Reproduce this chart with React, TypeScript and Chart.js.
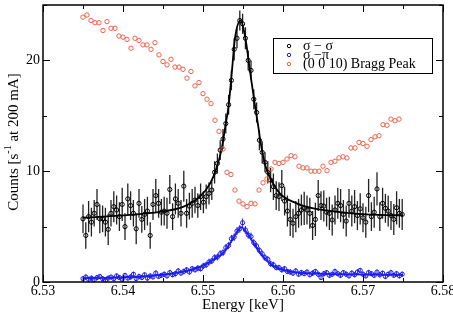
import React, { useEffect, useRef } from 'react';
import { Chart, registerables } from 'chart.js';
Chart.register(...registerables);

const SERIF = "'Liberation Serif', 'Times New Roman', Times, serif";

// Tick labels
const X_MAJOR = [6.53, 6.54, 6.55, 6.56, 6.57, 6.58];
const Y_MAJOR = [0, 10, 20];

// Legend labels
const LEGEND_LABELS = ['σ − σ', 'σ −π', '(0 0 10) Bragg Peak'];

// σ-σ and σ-π energy grid [keV]
const POL_E = [
  6.535, 6.53535, 6.5357, 6.53605, 6.5364, 6.53675, 6.5371, 6.53745, 6.5378, 6.53815,
  6.5385, 6.53885, 6.5392, 6.53955, 6.5399, 6.54025, 6.5406, 6.54095, 6.5413, 6.54165,
  6.542, 6.54235, 6.5427, 6.54305, 6.5434, 6.54375, 6.5441, 6.54445, 6.5448, 6.54515,
  6.5455, 6.54585, 6.5462, 6.54655, 6.5469, 6.54725, 6.5476, 6.54795, 6.5483, 6.54865,
  6.549, 6.54935, 6.5497, 6.55005, 6.5504, 6.55075, 6.5511, 6.55145, 6.5518, 6.55215,
  6.5525, 6.55285, 6.5532, 6.55355, 6.5539, 6.55425, 6.5546, 6.55495, 6.5553, 6.55565,
  6.556, 6.55635, 6.5567, 6.55705, 6.5574, 6.55775, 6.5581, 6.55845, 6.5588, 6.55915,
  6.5595, 6.55985, 6.5602, 6.56055, 6.5609, 6.56125, 6.5616, 6.56195, 6.5623, 6.56265,
  6.563, 6.56335, 6.5637, 6.56405, 6.5644, 6.56475, 6.5651, 6.56545, 6.5658, 6.56615,
  6.5665, 6.56685, 6.5672, 6.56755, 6.5679, 6.56825, 6.5686, 6.56895, 6.5693, 6.56965,
  6.57, 6.57035, 6.5707, 6.57105, 6.5714, 6.57175, 6.5721, 6.57245, 6.5728, 6.57315,
  6.5735, 6.57385, 6.5742, 6.57455, 6.5749,
];

// σ-σ counts
const SS_Y = [
  5.7, 4.2, 5.9, 5.4, 6.2, 7.0, 5.7, 5.7, 5.4, 4.75,
  6.2, 6.8, 6.5, 5.9, 7.0, 5.0, 7.5, 6.9, 6.2, 4.8,
  7.1, 5.65, 6.1, 6.4, 4.2, 7.0, 7.8, 7.1, 6.3, 6.4,
  6.2, 8.35, 5.9, 7.5, 7.1, 6.2, 8.65, 6.2, 6.85, 7.1,
  7.4, 6.9, 7.7, 7.2, 7.7, 8.0, 8.3, 9.9, 10.7, 11.9,
  12.9, 14.3, 16.0, 18.2, 21.0, 22.0, 23.6, 23.3, 22.0, 20.0,
  19.1, 16.5, 15.3, 12.8, 11.7, 10.8, 9.9, 9.2, 8.6, 7.8,
  7.7, 8.7, 7.3, 6.4, 5.65, 5.3, 5.9, 6.2, 6.5, 6.65,
  6.5, 6.2, 5.1, 5.65, 7.8, 6.9, 6.85, 6.3, 6.2, 5.6,
  6.5, 7.1, 6.9, 6.1, 5.5, 7.1, 6.4, 6.8, 6.0, 6.6,
  5.8, 5.4, 7.8, 5.9, 6.3, 8.4, 5.9, 7.1, 6.65, 6.4,
  6.0, 5.65, 6.7, 6.2, 6.1,
];
const SS_ERR = [
  1.3, 1.2, 1.4, 1.3, 1.2, 1.4, 1.3, 1.2, 1.3, 1.4,
  1.2, 1.4, 1.3, 1.3, 1.5, 1.2, 1.4, 1.3, 1.2, 1.4,
  1.3, 1.2, 1.4, 1.3, 1.2, 1.4, 1.5, 1.3, 1.2, 1.3,
  1.4, 1.3, 1.2, 1.4, 1.3, 1.2, 1.4, 1.3, 1.2, 1.3,
  1.2, 1.1, 1.2, 1.0, 1.1, 1.0, 0.9, 1.0, 0.9, 0.9,
  0.9, 0.9, 0.9, 0.9, 1.0, 0.9, 0.9, 0.9, 1.0, 0.9,
  0.9, 0.9, 0.9, 0.9, 1.0, 0.9, 1.0, 1.1, 1.2, 1.3,
  1.3, 1.4, 1.3, 1.4, 1.5, 1.3, 1.4, 1.3, 1.4, 1.5,
  1.3, 1.4, 1.3, 1.5, 1.4, 1.3, 1.4, 1.3, 1.5, 1.4,
  1.3, 1.4, 1.5, 1.3, 1.4, 1.3, 1.4, 1.5, 1.3, 1.4,
  1.3, 1.4, 1.5, 1.3, 1.4, 1.5, 1.3, 1.4, 1.3, 1.4,
  1.3, 1.4, 1.5, 1.3, 1.4,
];

// σ-π counts
const SP_Y = [
  0.30, 0.45, 0.25, 0.35, 0.20, 0.40, 0.50, 0.30, 0.15, 0.35,
  0.45, 0.30, 0.55, 0.40, 0.25, 0.60, 0.35, 0.45, 0.70, 0.30,
  0.50, 0.40, 0.65, 0.35, 0.55, 0.45, 0.80, 0.50, 0.60, 0.70,
  0.55, 0.85, 0.65, 0.75, 1.00, 0.80, 0.95, 1.10, 0.90, 1.20,
  1.10, 1.25, 1.20, 1.45, 1.55, 1.80, 1.90, 2.20, 2.25, 2.55,
  2.65, 3.10, 3.30, 3.90, 4.05, 4.60, 4.80, 5.35, 4.70, 4.25,
  4.10, 3.55, 3.25, 2.85, 2.55, 2.20, 2.05, 1.65, 1.55, 1.30,
  1.30, 1.10, 1.20, 0.95, 0.90, 0.80, 1.00, 0.70, 0.85, 0.75,
  0.90, 0.65, 0.80, 0.95, 0.70, 0.40, 0.75, 0.85, 0.60, 0.70,
  0.95, 0.75, 0.60, 0.85, 0.70, 0.55, 0.80, 0.65, 0.90, 1.05,
  0.70, 0.55, 0.85, 0.75, 0.60, 0.90, 0.65, 0.80, 0.50, 0.70,
  0.85, 0.60, 0.75, 0.55, 0.70,
];
const SP_ERR = [
  0.20, 0.25, 0.20, 0.22, 0.20, 0.25, 0.22, 0.20, 0.25, 0.22,
  0.20, 0.25, 0.22, 0.20, 0.25, 0.22, 0.20, 0.25, 0.22, 0.20,
  0.25, 0.22, 0.20, 0.25, 0.22, 0.20, 0.25, 0.22, 0.20, 0.25,
  0.22, 0.25, 0.22, 0.25, 0.25, 0.22, 0.25, 0.25, 0.22, 0.25,
  0.25, 0.28, 0.25, 0.28, 0.28, 0.30, 0.28, 0.30, 0.30, 0.32,
  0.30, 0.32, 0.32, 0.35, 0.35, 0.35, 0.35, 0.38, 0.35, 0.35,
  0.35, 0.32, 0.32, 0.30, 0.30, 0.30, 0.28, 0.28, 0.28, 0.25,
  0.25, 0.25, 0.25, 0.22, 0.25, 0.22, 0.25, 0.22, 0.25, 0.22,
  0.25, 0.22, 0.25, 0.22, 0.25, 0.22, 0.25, 0.22, 0.25, 0.22,
  0.25, 0.22, 0.25, 0.22, 0.25, 0.22, 0.25, 0.22, 0.25, 0.22,
  0.25, 0.22, 0.25, 0.22, 0.25, 0.22, 0.25, 0.22, 0.25, 0.22,
  0.25, 0.22, 0.25, 0.22, 0.25,
];

// Fit curves
const SS_FIT_E = [6.535, 6.538, 6.5405, 6.5446, 6.5475, 6.5496, 6.5509, 6.5517, 6.5523, 6.5528, 6.5532, 6.5536, 6.554, 6.5547, 6.5553, 6.5559, 6.5565, 6.5569, 6.5572, 6.5578, 6.5584, 6.5596, 6.5617, 6.5638, 6.568, 6.5721, 6.575];
const SS_FIT_Y = [5.80, 5.92, 6.04, 6.33, 6.78, 7.70, 8.90, 10.3, 11.9, 14.1, 15.9, 18.9, 22.0, 23.6, 22.0, 18.9, 15.9, 14.1, 12.6, 10.5, 9.4, 8.0, 7.1, 6.64, 6.24, 6.05, 6.02];
const SP_FIT_E = [6.535, 6.540, 6.5434, 6.5475, 6.5495, 6.5505, 6.5515, 6.5525, 6.5532, 6.5538, 6.5543, 6.5548, 6.5553, 6.5558, 6.5563, 6.5567, 6.5575, 6.5584, 6.5592, 6.5609, 6.5642, 6.5684, 6.575];
const SP_FIT_Y = [0.35, 0.42, 0.54, 0.93, 1.35, 1.65, 2.1, 2.6, 3.3, 3.95, 4.55, 4.95, 4.6, 4.1, 3.55, 3.1, 2.3, 1.65, 1.3, 0.93, 0.75, 0.68, 0.64];

// (0 0 10) Bragg peak
const BRAGG_E = [
  6.535, 6.5355, 6.536, 6.5365, 6.537, 6.5375, 6.538, 6.5385, 6.539, 6.5395,
  6.54, 6.5405, 6.541, 6.5415, 6.542, 6.5425, 6.543, 6.5435, 6.544, 6.5445,
  6.545, 6.5455, 6.546, 6.5465, 6.547, 6.5475, 6.548, 6.5485, 6.549, 6.5495,
  6.55, 6.5505, 6.551, 6.5515, 6.552, 6.5525, 6.553, 6.5535, 6.554, 6.5545,
  6.555, 6.5555, 6.556, 6.5565, 6.557, 6.5575, 6.558, 6.5585, 6.559, 6.5595,
  6.56, 6.5605, 6.561, 6.5615, 6.562, 6.5625, 6.563, 6.5635, 6.564, 6.5645,
  6.565, 6.5655, 6.566, 6.5665, 6.567, 6.5675, 6.568, 6.5685, 6.569, 6.5695,
  6.57, 6.5705, 6.571, 6.5715, 6.572, 6.5725, 6.573, 6.5735, 6.574, 6.5745,
];
const BRAGG_Y = [
  23.9, 24.1, 23.6, 23.4, 23.4, 22.7, 23.5, 22.9, 22.9, 22.2,
  22.1, 21.9, 21.1, 22.0, 21.8, 21.4, 21.4, 21.0, 21.6, 20.5,
  19.9, 19.6, 20.1, 19.4, 19.4, 19.2, 18.4, 19.0, 17.7, 18.0,
  17.0, 16.5, 16.1, 14.6, 13.6, 12.0, 9.9, 9.7, 8.3, 7.3,
  7.05, 6.8, 7.1, 7.05, 8.3, 8.95, 9.3, 10.2, 10.8, 10.7,
  10.8, 11.1, 11.4, 11.3, 10.45, 10.3, 10.3, 10.0, 10.0, 10.0,
  10.45, 10.05, 10.8, 10.9, 11.2, 11.3, 11.2, 12.1, 12.1, 12.6,
  12.5, 12.25, 12.85, 13.1, 13.2, 14.2, 14.15, 14.7, 14.55, 14.7,
];

const BLACK = '#000000';
const BLUE = '#1c1cf0';
const RED = '#f0604c';

const pts = (xs: number[], ys: number[]) => xs.map((x, i) => ({ x, y: ys[i] }));
const isMajor = (list: number[], v: number) => list.some((t) => Math.abs(t - v) < 1e-7);

const errorBars = {
  id: 'errorBars',
  beforeDatasetsDraw(chart: any) {
    const { ctx, chartArea: a, scales } = chart;
    ctx.save();
    ctx.beginPath();
    ctx.rect(a.left, a.top, a.width, a.height);
    ctx.clip();
    chart.data.datasets.forEach((ds: any) => {
      if (!ds.errors) return;
      ctx.strokeStyle = ds.errColor;
      ctx.lineWidth = ds.errWidth;
      ctx.beginPath();
      ds.data.forEach((p: any, i: number) => {
        const x = scales.x.getPixelForValue(p.x);
        ctx.moveTo(x, scales.y.getPixelForValue(p.y - ds.errors[i]));
        ctx.lineTo(x, scales.y.getPixelForValue(p.y + ds.errors[i]));
      });
      ctx.stroke();
    });
    ctx.restore();
  },
};

const decorations = {
  id: 'decorations',
  afterDraw(chart: any) {
    const { ctx, chartArea: a, scales } = chart;
    ctx.save();
    // inward ticks on all four sides
    ctx.strokeStyle = '#000';
    ctx.lineWidth = 1;
    ctx.beginPath();
    scales.x.ticks.forEach((t: any) => {
      const px = Math.round(scales.x.getPixelForValue(t.value)) + 0.5;
      const len = isMajor(X_MAJOR, t.value) ? 7 : 4;
      ctx.moveTo(px, a.bottom);
      ctx.lineTo(px, a.bottom - len);
      ctx.moveTo(px, a.top);
      ctx.lineTo(px, a.top + len);
    });
    scales.y.ticks.forEach((t: any) => {
      const py = Math.round(scales.y.getPixelForValue(t.value)) + 0.5;
      const len = isMajor(Y_MAJOR, t.value) ? 7 : 4;
      ctx.moveTo(a.left, py);
      ctx.lineTo(a.left + len, py);
      ctx.moveTo(a.right, py);
      ctx.lineTo(a.right - len, py);
    });
    ctx.stroke();
    // frame
    ctx.lineWidth = 1.5;
    ctx.strokeRect(a.left, a.top, a.right - a.left, a.bottom - a.top);

    // legend box
    const lx = 273, ly = 38, lw = 159, lh = 35;
    ctx.fillStyle = '#fff';
    ctx.fillRect(lx, ly, lw, lh);
    ctx.lineWidth = 1;
    ctx.strokeStyle = '#000';
    ctx.strokeRect(lx + 0.5, ly + 0.5, lw, lh);
    const colors = [BLACK, BLUE, RED];
    ctx.font = `14px ${SERIF}`;
    ctx.textBaseline = 'middle';
    ctx.textAlign = 'left';
    LEGEND_LABELS.forEach((lab, i) => {
      const yy = ly + 8 + i * 9;
      ctx.strokeStyle = colors[i];
      ctx.lineWidth = 1;
      ctx.beginPath();
      ctx.arc(289, yy, 1.7, 0, Math.PI * 2);
      ctx.stroke();
      ctx.fillStyle = '#000';
      ctx.fillText(lab, 303, yy);
    });

    // x axis title
    ctx.font = `15px ${SERIF}`;
    ctx.textAlign = 'center';
    ctx.fillStyle = '#000';
    ctx.fillText('Energy [keV]', (a.left + a.right) / 2, 305);

    // y axis title with superscript
    ctx.translate(14, 142);
    ctx.rotate(-Math.PI / 2);
    const p1 = 'Counts [s';
    const p2 = '-1';
    const p3 = ' at 200 mA]';
    ctx.font = `15px ${SERIF}`;
    const w1 = ctx.measureText(p1).width;
    const w3 = ctx.measureText(p3).width;
    ctx.font = `10px ${SERIF}`;
    const w2 = ctx.measureText(p2).width;
    const total = w1 + w2 + w3;
    let cx = -total / 2;
    ctx.textAlign = 'left';
    ctx.font = `15px ${SERIF}`;
    ctx.fillText(p1, cx, 0);
    cx += w1;
    ctx.font = `10px ${SERIF}`;
    ctx.fillText(p2, cx, -6);
    cx += w2;
    ctx.font = `15px ${SERIF}`;
    ctx.fillText(p3, cx, 0);
    ctx.restore();
  },
};

export default function App() {
  const ref = useRef<HTMLCanvasElement | null>(null);
  useEffect(() => {
    const canvas = ref.current;
    if (!canvas) return;
    const chart = new Chart(canvas, {
      type: 'scatter',
      data: {
        datasets: [
          {
            label: LEGEND_LABELS[2],
            data: pts(BRAGG_E, BRAGG_Y),
            pointRadius: 2.2,
            pointBorderWidth: 1,
            borderColor: RED,
            backgroundColor: 'rgba(0,0,0,0)',
            showLine: false,
          },
          {
            label: 'σ − σ fit',
            data: pts(SS_FIT_E, SS_FIT_Y),
            showLine: true,
            pointRadius: 0,
            borderColor: BLACK,
            borderWidth: 1.8,
            cubicInterpolationMode: 'monotone',
          },
          {
            label: LEGEND_LABELS[0],
            data: pts(POL_E, SS_Y),
            pointRadius: 2.1,
            pointBorderWidth: 1,
            borderColor: BLACK,
            backgroundColor: 'rgba(0,0,0,0)',
            showLine: false,
            errors: SS_ERR,
            errColor: '#222',
            errWidth: 1.3,
          } as any,
          {
            label: 'σ −π fit',
            data: pts(SP_FIT_E, SP_FIT_Y),
            showLine: true,
            pointRadius: 0,
            borderColor: BLUE,
            borderWidth: 1.8,
            cubicInterpolationMode: 'monotone',
          },
          {
            label: LEGEND_LABELS[1],
            data: pts(POL_E, SP_Y),
            pointRadius: 2.1,
            pointBorderWidth: 1,
            borderColor: BLUE,
            backgroundColor: 'rgba(0,0,0,0)',
            showLine: false,
            errors: SP_ERR,
            errColor: BLUE,
            errWidth: 1,
          } as any,
        ],
      },
      options: {
        responsive: false,
        animation: false,
        events: [],
        layout: { padding: { top: 5, right: 10, left: 0, bottom: 0 } },
        plugins: { legend: { display: false }, tooltip: { enabled: false } },
        scales: {
          x: {
            type: 'linear',
            min: 6.53,
            max: 6.58,
            grid: { display: false, drawTicks: false },
            border: { display: false },
            ticks: {
              stepSize: 0.005,
              autoSkip: false,
              maxRotation: 0,
              padding: 1,
              color: '#000',
              font: { family: SERIF, size: 14 },
              callback: (v: any) => {
                const n = Number(v);
                const m = X_MAJOR.find((t) => Math.abs(t - n) < 1e-7);
                return m !== undefined ? m.toFixed(2) : '';
              },
            },
            afterFit: (s: any) => {
              s.height = 38;
              s.paddingLeft = 0;
              s.paddingRight = 0;
            },
          },
          y: {
            type: 'linear',
            min: 0,
            max: 25,
            grid: { display: false, drawTicks: false },
            border: { display: false },
            ticks: {
              stepSize: 5,
              autoSkip: false,
              padding: 3,
              color: '#000',
              font: { family: SERIF, size: 14 },
              callback: (v: any) => {
                const n = Number(v);
                const m = Y_MAJOR.find((t) => Math.abs(t - n) < 1e-7);
                return m !== undefined ? String(m) : '';
              },
            },
            afterFit: (s: any) => {
              s.width = 43;
              s.paddingTop = 0;
              s.paddingBottom = 0;
            },
          },
        },
      },
      plugins: [errorBars, decorations],
    } as any);
    return () => chart.destroy();
  }, []);
  return (
    <canvas
      ref={ref}
      width={453}
      height={320}
      style={{ position: 'absolute', left: 0, top: 0, background: '#fff' }}
    />
  );
}
